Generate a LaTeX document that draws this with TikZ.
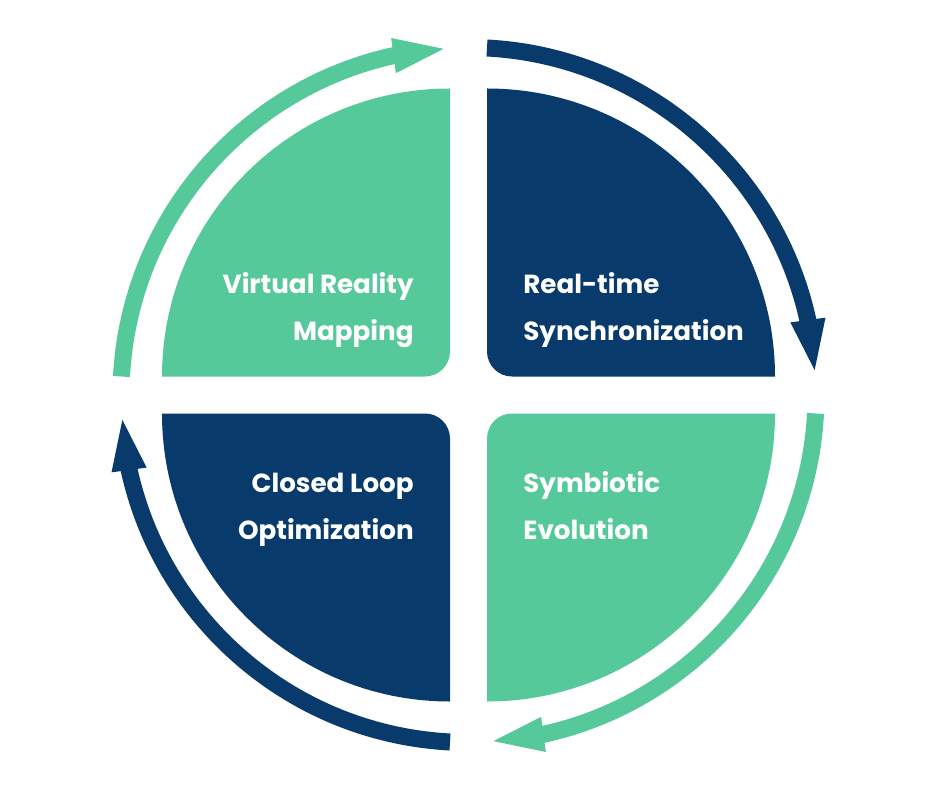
\documentclass[tikz,border=0pt]{standalone}
\usepackage{fontspec}
\setmainfont{Poppins}
\usetikzlibrary{arrows.meta,bending}
\definecolor{mint}{HTML}{56C99B}
\definecolor{navy}{HTML}{083A6C}
\begin{document}
\begin{tikzpicture}[x=0.2mm,y=0.2mm,
  loop/.style={line width=3.4mm,-{Triangle[length=11.4mm,width=6mm,flex]}},
  lbl/.style={text=white,font=\fontsize{14.9}{27}\selectfont\bfseries,inner sep=0pt}]
\useasboundingbox (-468.5,-397) rectangle (468.5,395);
% four quarters
\fill[mint] (-18.5,306.5) -- (-18.5,43.5) arc[start angle=0,end angle=-90,radius=25] -- (-306.5,18.5) arc[start angle=180,end angle=90,radius=288] -- cycle;
\fill[navy] (18.5,306.5) -- (18.5,43.5) arc[start angle=180,end angle=270,radius=25] -- (306.5,18.5) arc[start angle=0,end angle=90,radius=288] -- cycle;
\fill[navy] (-18.5,-306.5) -- (-18.5,-43.5) arc[start angle=0,end angle=90,radius=25] -- (-306.5,-18.5) arc[start angle=180,end angle=270,radius=288] -- cycle;
\fill[mint] (18.5,-306.5) -- (18.5,-43.5) arc[start angle=180,end angle=90,radius=25] -- (306.5,-18.5) arc[start angle=0,end angle=-90,radius=288] -- cycle;
\node[lbl,anchor=base east,align=right] (vrm) at (-54.5,54.5) {Virtual Reality\\Mapping};
\node[lbl,anchor=base west,align=left] (rts) at (54.5,54.5) {Real-time\\Synchronization};
\node[lbl,anchor=base east,align=right] (clo) at (-54.5,-144.5) {Closed Loop\\Optimization};
\node[lbl,anchor=base west,align=left] (sev) at (54.5,-144.5) {Symbiotic\\Evolution};
% outer loop arrows
\draw[loop,navy] (86.95:347.5) arc[start angle=86.95,end angle=3.05,radius=347.5];
\draw[loop,mint] (-3.05:347.5) arc[start angle=-3.05,end angle=-86.95,radius=347.5];
\draw[loop,navy] (266.95:347.5) arc[start angle=266.95,end angle=183.05,radius=347.5];
\draw[loop,mint] (176.95:347.5) arc[start angle=176.95,end angle=93.05,radius=347.5];
\end{tikzpicture}
\end{document}
